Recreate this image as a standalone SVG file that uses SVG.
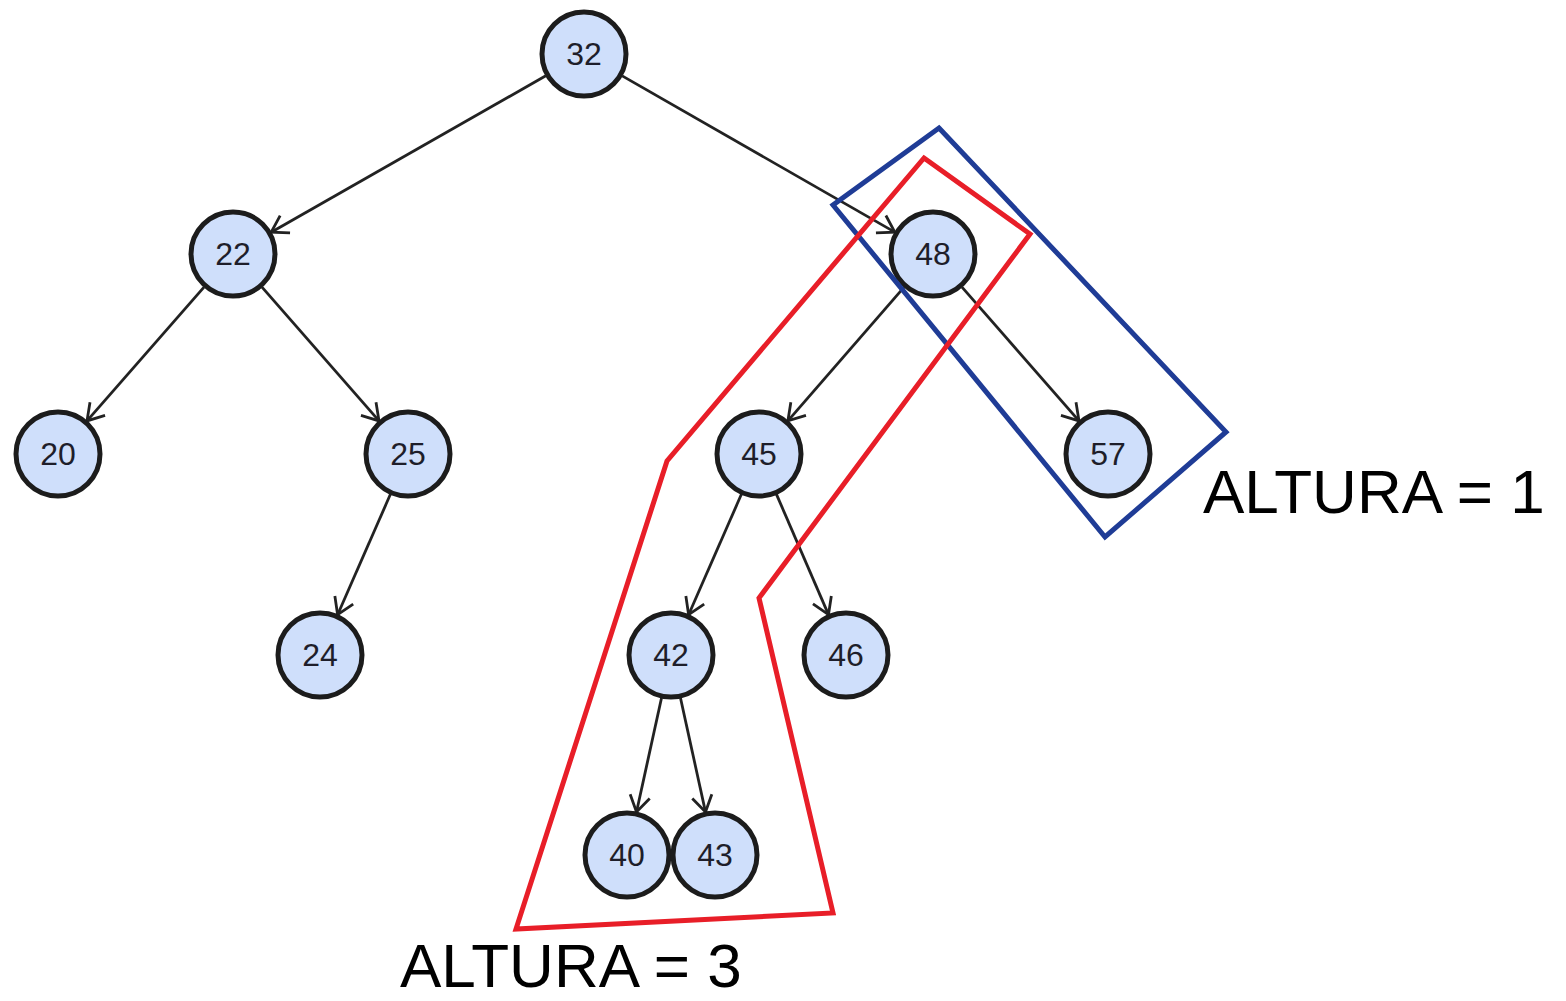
<svg xmlns="http://www.w3.org/2000/svg" width="1566" height="1001" viewBox="0 0 1566 1001">
<style>
.n circle{fill:#cfdffb;stroke:#1c1c1c;stroke-width:5}
.n text{font-family:"Liberation Sans",Arial,sans-serif;font-size:32px;fill:#1e1e2a;text-anchor:middle}
.e line{stroke:#222;stroke-width:2.8;marker-end:url(#arr)}
.lbl{font-family:"Liberation Sans",Arial,sans-serif;font-size:62px;fill:#000}
</style>
<defs>
<marker id="arr" markerUnits="userSpaceOnUse" viewBox="-20 -12 24 24" refX="0" refY="0" markerWidth="24" markerHeight="24" orient="auto">
<path d="M-16,-10 L0,0 L-16,10" fill="none" stroke="#222" stroke-width="2.8"/>
</marker>
</defs>
<rect width="1566" height="1001" fill="#fff"/>
<g id="edges" class="e">
<line x1="545.8" y1="75.8" x2="271.2" y2="232.2"/>
<line x1="622.2" y1="75.9" x2="894.8" y2="232.1"/>
<line x1="204" y1="287.1" x2="87" y2="420.9"/>
<line x1="262" y1="287.1" x2="379" y2="420.9"/>
<line x1="904.1" y1="287.2" x2="787.9" y2="420.8"/>
<line x1="962" y1="287.1" x2="1079" y2="420.9"/>
<line x1="390.4" y1="494.3" x2="337.6" y2="614.7"/>
<line x1="741.4" y1="494.3" x2="688.6" y2="614.7"/>
<line x1="776.5" y1="494.4" x2="828.5" y2="614.6"/>
<line x1="661.5" y1="698" x2="636.5" y2="812"/>
<line x1="680.5" y1="698" x2="705.5" y2="812"/>
</g>
<g id="n32" class="n"><circle cx="584" cy="54" r="42"/><text x="584" y="65">32</text></g>
<g id="n22" class="n"><circle cx="233" cy="254" r="42"/><text x="233" y="265">22</text></g>
<g id="n48" class="n"><circle cx="933" cy="254" r="42"/><text x="933" y="265">48</text></g>
<g id="n20" class="n"><circle cx="58" cy="454" r="42"/><text x="58" y="465">20</text></g>
<g id="n25" class="n"><circle cx="408" cy="454" r="42"/><text x="408" y="465">25</text></g>
<g id="n45" class="n"><circle cx="759" cy="454" r="42"/><text x="759" y="465">45</text></g>
<g id="n57" class="n"><circle cx="1108" cy="454" r="42"/><text x="1108" y="465">57</text></g>
<g id="n24" class="n"><circle cx="320" cy="655" r="42"/><text x="320" y="666">24</text></g>
<g id="n42" class="n"><circle cx="671" cy="655" r="42"/><text x="671" y="666">42</text></g>
<g id="n46" class="n"><circle cx="846" cy="655" r="42"/><text x="846" y="666">46</text></g>
<g id="n40" class="n"><circle cx="627" cy="855" r="42"/><text x="627" y="866">40</text></g>
<g id="n43" class="n"><circle cx="715" cy="855" r="42"/><text x="715" y="866">43</text></g>
<g id="highlight-blue"><polygon points="939,128 1226,432 1105,537 833,205" fill="none" stroke="#1f3c96" stroke-width="5"/></g>
<g id="highlight-red"><polygon points="924,158 1030,234 759,598 833,913 516,929 667,461" fill="none" stroke="#e81e28" stroke-width="5"/></g>
<text class="lbl" x="1203" y="513">ALTURA = 1</text>
<text class="lbl" x="400" y="987">ALTURA = 3</text>
</svg>
